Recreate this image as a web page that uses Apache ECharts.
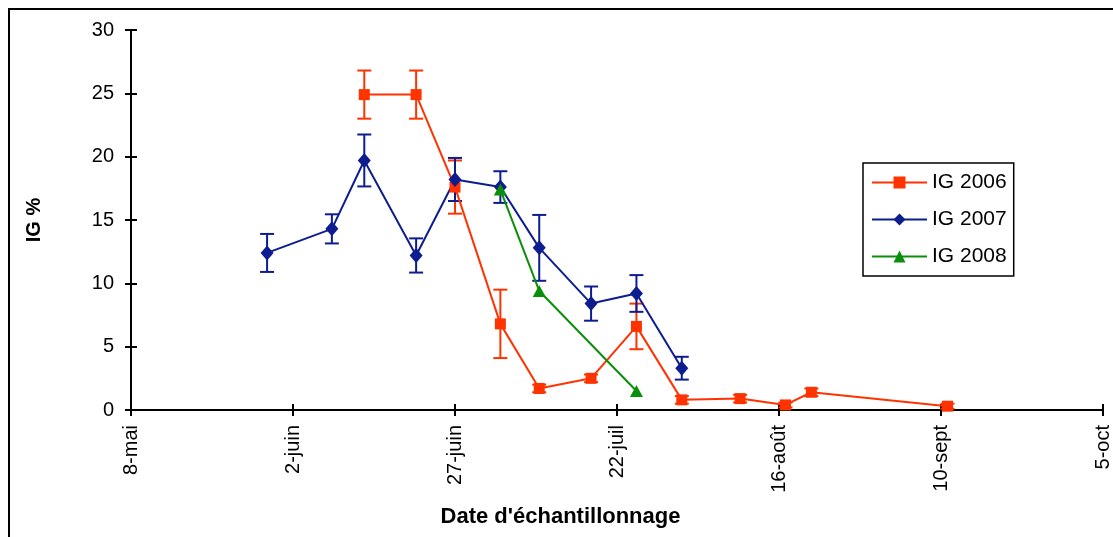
<!DOCTYPE html>
<html>
<head>
<meta charset="utf-8">
<script src="https://cdn.jsdelivr.net/npm/echarts@6/dist/echarts.min.js"></script>
<style>
  html, body { margin: 0; padding: 0; background: #fff; }
  #main { width: 1113px; height: 537px; }
</style>
</head>
<body>
<div id="main"></div>
<script>
// axe des dates : jours comptés depuis le 8 mai, un repère tous les 25 jours
var tickLabels = ['8-mai', '2-juin', '27-juin', '22-juil', '16-août', '10-sept', '5-oct'];

// IG 2006
var dates2006 = ['06-13', '06-21', '06-27', '07-04', '07-10', '07-18', '07-25', '08-01', '08-10', '08-17', '08-21', '09-11'];
var ig2006 = [24.9, 24.9, 17.6, 6.8, 1.7, 2.5, 6.6, 0.8, 0.9, 0.4, 1.4, 0.3];
var err2006 = [1.9, 1.9, 2.1, 2.7, 0.3, 0.3, 1.8, 0.3, 0.3, 0.2, 0.3, 0.2];

// IG 2007
var dates2007 = ['05-29', '06-08', '06-13', '06-21', '06-27', '07-04', '07-10', '07-18', '07-25', '08-01'];
var ig2007 = [12.4, 14.3, 19.7, 12.2, 18.2, 17.6, 12.8, 8.4, 9.2, 3.3];
var err2007 = [1.5, 1.15, 2.05, 1.35, 1.7, 1.25, 2.6, 1.35, 1.45, 0.9];

// IG 2008
var dates2008 = ['07-04', '07-10', '07-25'];
var ig2008 = [17.4, 9.4, 1.5];

var RED = '#ff3300', BLUE = '#0d1d8f', GREEN = '#0a8f0a';

function dayOf(md) {
  var p = md.split('-');
  return Math.round((Date.UTC(2006, +p[0] - 1, +p[1]) - Date.UTC(2006, 4, 8)) / 86400000);
}
function pts(dates, vals) {
  return dates.map(function (d, i) { return [dayOf(d), vals[i]]; });
}
function bars(dates, vals, errs) {
  return dates.map(function (d, i) { return [dayOf(d), vals[i] - errs[i], vals[i] + errs[i]]; });
}
function errSeries(data, color) {
  return {
    type: 'custom',
    silent: true,
    data: data,
    encode: { x: 0, y: [1, 2] },
    renderItem: function (params, api) {
      var x = api.value(0);
      var top = api.coord([x, api.value(2)]);
      var bot = api.coord([x, api.value(1)]);
      var w = 7;
      var st = { stroke: color, lineWidth: 2 };
      return {
        type: 'group',
        children: [
          { type: 'line', shape: { x1: top[0], y1: top[1], x2: bot[0], y2: bot[1] }, style: st },
          { type: 'line', shape: { x1: top[0] - w, y1: top[1], x2: top[0] + w, y2: top[1] }, style: st },
          { type: 'line', shape: { x1: bot[0] - w, y1: bot[1], x2: bot[0] + w, y2: bot[1] }, style: st }
        ]
      };
    }
  };
}

var font = 'Liberation Sans, Arial, sans-serif';
var chart = echarts.init(document.getElementById('main'));

var tickStyle = { color: '#000', width: 2 };

var option = {
  backgroundColor: '#fff',
  animation: false,
  textStyle: { fontFamily: font },
  graphic: [{
    type: 'rect',
    shape: { x: 9, y: 9, width: 1200, height: 700 },
    style: { fill: 'none', stroke: '#000', lineWidth: 2 },
    silent: true
  }],
  grid: { left: 131, right: 7, top: 30, bottom: 127 },
  legend: {
    orient: 'vertical',
    left: 863,
    top: 163,
    data: ['IG 2006', 'IG 2007', 'IG 2008'],
    backgroundColor: '#fff',
    borderColor: '#000',
    borderWidth: 1.5,
    borderRadius: 0,
    padding: [9, 7, 9, 8],
    itemWidth: 55,
    itemHeight: 15,
    itemGap: 16,
    textStyle: { fontSize: 21, color: '#000', fontFamily: font }
  },
  xAxis: [{
    type: 'value',
    min: 0, max: 150, interval: 25,
    position: 'bottom',
    name: "Date d'échantillonnage",
    nameLocation: 'middle',
    nameGap: 96,
    nameTextStyle: { fontSize: 22, fontWeight: 'bold', color: '#000', padding: [0, 113, 0, 0] },
    axisLine: { lineStyle: { color: '#000', width: 2 } },
    axisTick: { length: 6, lineStyle: tickStyle },
    axisLabel: {
      rotate: 90, margin: 15, fontSize: 20, color: '#000',
      formatter: function (v) { return tickLabels[Math.round(v / 25)]; }
    },
    splitLine: { show: false }
  }, {
    // même échelle, repères vers l'intérieur : graduations en croix
    type: 'value',
    min: 0, max: 150, interval: 25,
    position: 'bottom',
    axisLine: { show: false },
    axisTick: { show: true, inside: true, length: 6, lineStyle: tickStyle },
    axisLabel: { show: false },
    splitLine: { show: false }
  }],
  yAxis: [{
    type: 'value',
    min: 0, max: 30, interval: 5,
    position: 'left',
    name: 'IG %',
    nameLocation: 'middle',
    nameRotate: 90,
    nameGap: 87,
    nameTextStyle: { fontSize: 20, fontWeight: 'bold', color: '#000' },
    axisLine: { show: true, lineStyle: { color: '#000', width: 2 } },
    axisTick: { show: true, length: 6, lineStyle: tickStyle },
    axisLabel: { margin: 17, fontSize: 20, color: '#000' },
    splitLine: { show: false }
  }, {
    type: 'value',
    min: 0, max: 30, interval: 5,
    position: 'left',
    axisLine: { show: false },
    axisTick: { show: true, inside: true, length: 6, lineStyle: tickStyle },
    axisLabel: { show: false },
    splitLine: { show: false }
  }],
  series: [
    errSeries(bars(dates2006, ig2006, err2006), RED),
    {
      name: 'IG 2006', type: 'line', data: pts(dates2006, ig2006),
      symbol: 'rect', symbolSize: 11,
      lineStyle: { color: RED, width: 2 }, itemStyle: { color: RED }
    },
    errSeries(bars(dates2007, ig2007, err2007), BLUE),
    {
      name: 'IG 2007', type: 'line', data: pts(dates2007, ig2007),
      symbol: 'diamond', symbolSize: [13, 15],
      lineStyle: { color: BLUE, width: 2 }, itemStyle: { color: BLUE }
    },
    {
      name: 'IG 2008', type: 'line', data: pts(dates2008, ig2008),
      symbol: 'triangle', symbolSize: [13, 12],
      lineStyle: { color: GREEN, width: 2 }, itemStyle: { color: GREEN }
    }
  ]
};

chart.setOption(option);
</script>
</body>
</html>
